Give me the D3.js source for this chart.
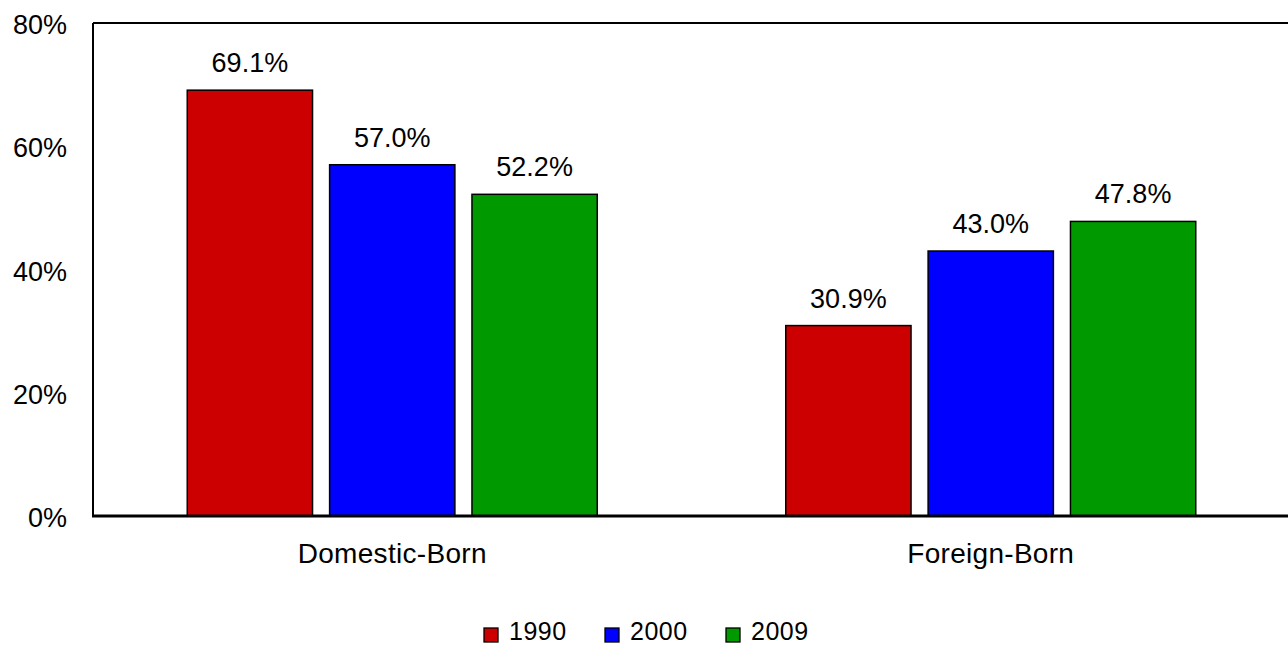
<!DOCTYPE html>
<html><head><meta charset="utf-8">
<script src="https://cdn.jsdelivr.net/npm/d3@7"></script>
<style>body{margin:0;background:#fff}svg{display:block}text{font-family:"Liberation Sans",Arial,sans-serif;fill:#000}</style>
</head><body>
<script>
const categories = ["Domestic-Born", "Foreign-Born"];
const years = ["1990", "2000", "2009"];
const values1990 = [69.1, 30.9];
const values2000 = [57.0, 43.0];
const values2009 = [52.2, 47.8];
const yTicks = [0, 20, 40, 60, 80];
const colors = ["#CC0000", "#0000FF", "#009900"];

(function () {
const series = [values1990, values2000, values2009];
const W = 1288, H = 646;
const svg = d3.select("body").append("svg").attr("width", W).attr("height", H);
const pL = 93, pR = 1290, pT = 23, pB = 516;

const x0 = d3.scaleBand().domain(categories).range([pL, pR]);
const groupW = 410;
const x1 = d3.scaleBand().domain(years).range([0, groupW]).paddingInner(0.12);
const y = d3.scaleLinear().domain([0, 80]).range([pB, pT]);

// frame
svg.append("line").attr("x1", pL).attr("x2", W + 5).attr("y1", pT).attr("y2", pT).attr("stroke", "#000").attr("stroke-width", 2);
svg.append("line").attr("x1", pL).attr("x2", pL).attr("y1", pT).attr("y2", pB).attr("stroke", "#000").attr("stroke-width", 2);

// y tick labels
svg.append("g").selectAll("text").data(yTicks).join("text")
  .attr("x", 67).attr("y", d => y(d) + 11).attr("text-anchor", "end")
  .attr("font-size", 27).text(d => d + "%");

// bars
categories.forEach((c, ci) => {
  const gx = x0(c) + x0.bandwidth() / 2 - groupW / 2;
  years.forEach((yr, si) => {
    const v = series[si][ci];
    const bx = gx + x1(yr);
    svg.append("rect").attr("x", bx).attr("y", y(v)).attr("width", x1.bandwidth()).attr("height", y(0) - y(v))
      .attr("fill", colors[si]).attr("stroke", "#000").attr("stroke-width", 1.5);
    svg.append("text").attr("x", bx + x1.bandwidth() / 2).attr("y", y(v) - 18).attr("text-anchor", "middle")
      .attr("font-size", 27).text(v.toFixed(1) + "%");
  });
  svg.append("text").attr("x", x0(c) + x0.bandwidth() / 2).attr("y", 563).attr("text-anchor", "middle")
    .attr("font-size", 28).attr("letter-spacing", 0.3).text(c);
});

// x axis line
svg.append("line").attr("x1", pL - 1).attr("x2", W + 5).attr("y1", pB).attr("y2", pB).attr("stroke", "#000").attr("stroke-width", 3);

// legend
const legX = [484, 605, 726];
years.forEach((yr, i) => {
  svg.append("rect").attr("x", legX[i]).attr("y", 628).attr("width", 14).attr("height", 14)
    .attr("fill", colors[i]).attr("stroke", "#000").attr("stroke-width", 1.3);
  svg.append("text").attr("x", legX[i] + 25).attr("y", 640).attr("font-size", 25).attr("letter-spacing", 0.5).text(yr);
});
})();
</script>
</body></html>
